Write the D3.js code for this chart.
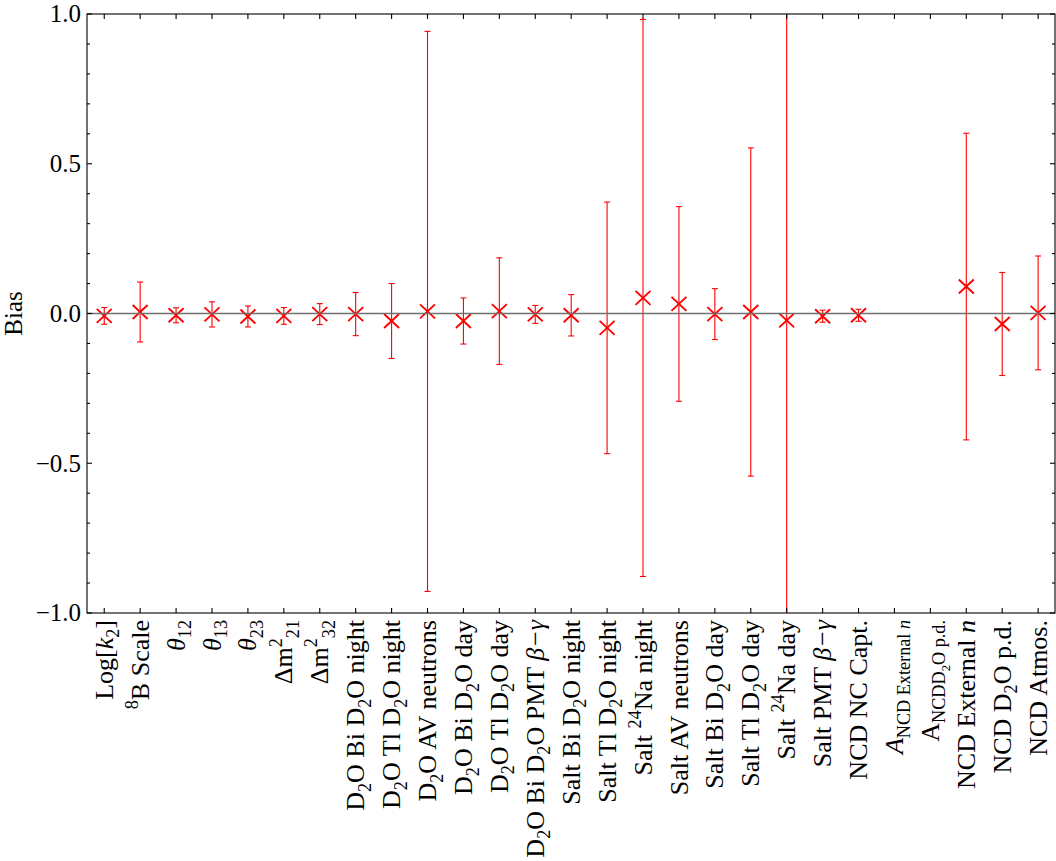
<!DOCTYPE html>
<html>
<head>
<meta charset="utf-8">
<script src="https://cdn.jsdelivr.net/npm/d3@7"></script>
<style>
  body { margin: 0; background: #fff; }
  svg { display: block; }
  text { font-family: "Liberation Serif", "Times New Roman", serif; fill: #000; }
</style>
</head>
<body>
<svg id="chart" width="1056" height="861"></svg>
<script>
// Fit parameters: label markup uses _{..} subscript, ^{..} superscript, *..* italic
const categories = [
  "Log[*k*_{2}]",
  "^{8}B Scale",
  "*θ*_{12}",
  "*θ*_{13}",
  "*θ*_{23}",
  "Δm^{2}_{21}",
  "Δm^{2}_{32}",
  "D_{2}O Bi D_{2}O night",
  "D_{2}O Tl D_{2}O night",
  "D_{2}O AV neutrons",
  "D_{2}O Bi D_{2}O day",
  "D_{2}O Tl D_{2}O day",
  "D_{2}O Bi D_{2}O PMT *β−γ*",
  "Salt Bi D_{2}O night",
  "Salt Tl D_{2}O night",
  "Salt ^{24}Na night",
  "Salt AV neutrons",
  "Salt Bi D_{2}O day",
  "Salt Tl D_{2}O day",
  "Salt ^{24}Na day",
  "Salt PMT *β−γ*",
  "NCD NC Capt.",
  "*A*_{NCD External *n*}",
  "A_{NCDD_{2}O p.d.}",
  "NCD External *n*",
  "NCD D_{2}O p.d.",
  "NCD Atmos."
];

// Bias of each parameter and its error (null = not fitted)
const bias = [
  -0.008, 0.005, -0.006, -0.003, -0.010, -0.008, -0.002,
  -0.002, -0.025, 0.007, -0.025, 0.008, -0.003,
  -0.006, -0.048, 0.052, 0.032, -0.002, 0.005, -0.023, -0.009,
  -0.006, null, null, 0.090, -0.035, 0.002
];
const biasError = [
  0.028, 0.100, 0.025, 0.042, 0.035, 0.028, 0.035,
  0.072, 0.125, 0.935, 0.077, 0.178, 0.030,
  0.069, 0.420, 0.930, 0.325, 0.085, 0.548, 1.300, 0.020,
  0.020, null, null, 0.512, 0.172, 0.190
];

const yTicks = [-1, -0.5, 0, 0.5, 1];
const yMinorTicks = d3.range(-10, 11).map(d => d / 10);

const svg = d3.select("#chart");
const plot = { left: 87, right: 1055, top: 14, bottom: 613 };

const x = d3.scaleLinear().domain([0.52, 27.47]).range([plot.left, plot.right]);
const y = d3.scaleLinear().domain([-1, 1]).range([plot.bottom, plot.top]);

const idx = categories.map((_, i) => i + 1);
const points = idx.map((k, i) => ({ k, v: bias[i], e: biasError[i] })).filter(d => d.v !== null);

svg.append("clipPath").attr("id", "plotClip")
  .append("rect")
  .attr("x", plot.left).attr("y", plot.top)
  .attr("width", plot.right - plot.left).attr("height", plot.bottom - plot.top);

const marks = svg.append("g").attr("clip-path", "url(#plotClip)");
const red = "#ff0000";

// error bars
const eb = marks.append("g").attr("stroke", red).attr("stroke-width", 1.1).attr("fill", "none");
points.forEach(d => {
  const cx = x(d.k);
  const y0 = y(d.v - d.e), y1 = y(d.v + d.e);
  eb.append("line").attr("x1", cx).attr("x2", cx).attr("y1", y0).attr("y2", y1);
  eb.append("line").attr("x1", cx - 3).attr("x2", cx + 3).attr("y1", y0).attr("y2", y0);
  eb.append("line").attr("x1", cx - 3).attr("x2", cx + 3).attr("y1", y1).attr("y2", y1);
});

// cross markers
const mk = marks.append("g").attr("stroke", red).attr("stroke-width", 1.9).attr("fill", "none");
points.forEach(d => {
  const cx = x(d.k), cy = y(d.v), hw = 7.5, hh = 7;
  mk.append("path").attr("d", `M${cx - hw},${cy - hh}L${cx + hw},${cy + hh}M${cx - hw},${cy + hh}L${cx + hw},${cy - hh}`);
});

// zero reference line
svg.append("line")
  .attr("x1", plot.left).attr("x2", plot.right)
  .attr("y1", y(0)).attr("y2", y(0))
  .attr("stroke", "#707070").attr("stroke-width", 1.6);

// frame with inward ticks
const frame = svg.append("g").attr("stroke", "#000").attr("stroke-width", 1.1).attr("fill", "none");
frame.append("rect")
  .attr("x", plot.left).attr("y", plot.top)
  .attr("width", plot.right - plot.left).attr("height", plot.bottom - plot.top);

yMinorTicks.forEach(t => {
  const isMajor = yTicks.some(m => Math.abs(m - t) < 1e-9);
  const len = isMajor ? 5 : 3;
  frame.append("line").attr("x1", plot.left).attr("x2", plot.left + len).attr("y1", y(t)).attr("y2", y(t));
  frame.append("line").attr("x1", plot.right).attr("x2", plot.right - len).attr("y1", y(t)).attr("y2", y(t));
});
idx.forEach(k => {
  frame.append("line").attr("x1", x(k)).attr("x2", x(k)).attr("y1", plot.top).attr("y2", plot.top + 5);
  frame.append("line").attr("x1", x(k)).attr("x2", x(k)).attr("y1", plot.bottom).attr("y2", plot.bottom - 5);
});

// y tick labels
const fmt = d3.format(".1f");
svg.append("g").selectAll("text").data(yTicks).join("text")
  .attr("x", plot.left - 6)
  .attr("y", d => y(d))
  .attr("dy", "0.33em")
  .attr("text-anchor", "end")
  .attr("font-size", 25)
  .text(d => fmt(d));

// y axis title
svg.append("text")
  .attr("transform", `translate(22,${(plot.top + plot.bottom) / 2}) rotate(-90)`)
  .attr("text-anchor", "middle")
  .attr("font-size", 25)
  .text("Bias");

// rich label parser -> segments with baseline shift (em), scale and italic flag
function parseRich(str) {
  const segs = [];
  function walk(s, shift, scale, italic) {
    let buf = "";
    const flush = () => { if (buf) { segs.push({ text: buf, shift, scale, italic }); buf = ""; } };
    for (let i = 0; i < s.length; i++) {
      const c = s[i];
      if ((c === "_" || c === "^") && s[i + 1] === "{") {
        let depth = 0, j = i + 1;
        for (; j < s.length; j++) {
          if (s[j] === "{") depth++;
          else if (s[j] === "}") { depth--; if (depth === 0) break; }
        }
        flush();
        walk(s.slice(i + 2, j), shift + (c === "_" ? 0.25 * scale : -0.42 * scale), scale * 0.7, italic);
        i = j;
      } else if (c === "*") {
        flush();
        italic = !italic;
      } else {
        buf += c;
      }
    }
    flush();
  }
  walk(str, 0, 1, false);
  return segs;
}

// category labels, rotated
const fs = 26;
const labels = svg.append("g");
categories.forEach((c, i) => {
  const t = labels.append("text")
    .attr("transform", `translate(${x(i + 1) + 0.33 * fs},${plot.bottom + 7}) rotate(-90)`)
    .attr("text-anchor", "end")
    .attr("font-size", fs);
  let prev = 0;
  parseRich(c).forEach(s => {
    t.append("tspan")
      .attr("dy", (s.shift - prev) * fs)
      .attr("font-size", s.scale * fs)
      .attr("font-style", s.italic ? "italic" : "normal")
      .text(s.text);
    prev = s.shift;
  });
});
</script>
</body>
</html>
